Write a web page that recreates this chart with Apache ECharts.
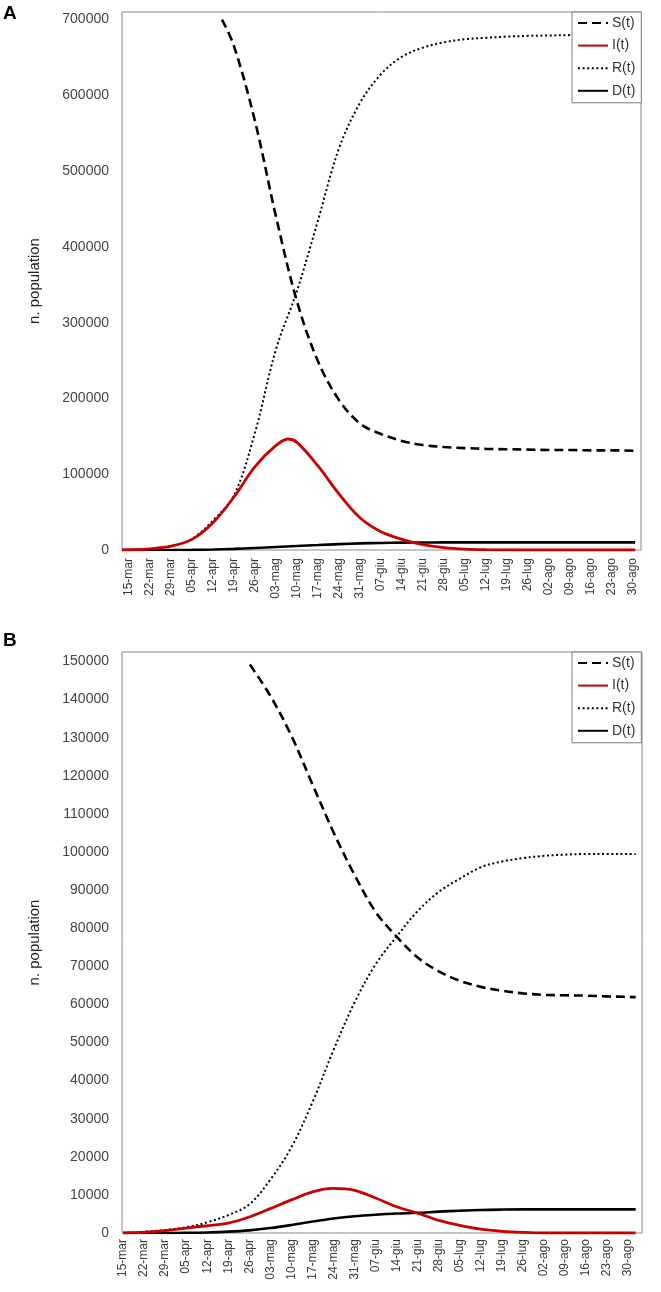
<!DOCTYPE html>
<html>
<head>
<meta charset="utf-8">
<script src="https://cdn.jsdelivr.net/npm/echarts@6/dist/echarts.min.js"></script>
<style>
html,body{margin:0;padding:0;background:#fff;}
#c{width:661px;height:1292px;}
</style>
</head>
<body>
<div id="c"></div>
<script>
// ---- tick labels (weekly) ----
const tickLabels = ['15-mar','22-mar','29-mar','05-apr','12-apr','19-apr','26-apr','03-mag','10-mag','17-mag','24-mag','31-mag','07-giu','14-giu','21-giu','28-giu','05-lug','12-lug','19-lug','26-lug','02-ago','09-ago','16-ago','23-ago','30-ago'];
const tickDays = [0,7,14,21,28,35,42,49,56,63,70,77,84,91,98,105,112,119,126,133,140,147,154,161,168];
const seriesNames = ['S(t)','I(t)','R(t)','D(t)'];

// ---- Panel A (days since 15-mar) ----
const daysA = [-2.3,0,7,14,21,28,35,42,49,56,63,70,77,84,91,98,105,112,119,126,133,140,147,154,161,168.7];
const sDaysA = [31,35,42,49,56,63,70,77,84,91,98,105,112,119,126,133,140,147,154,161,168.7];
const sA = [700000,665000,566000,440000,328000,249000,198000,167000,153000,144000,138500,136000,134500,133500,133000,132500,132000,132000,131500,131500,131000];
const iDaysA = [-2.3,0,7,14,21,28,35,42,49,53,56,63,70,77,84,91,98,105,112,119,126,133,140,147,154,161,168.7];
const iA = [0,200,1500,5000,14000,36000,70000,110000,138000,146500,142000,111000,74000,42500,24000,14000,7000,3200,1200,400,100,0,0,0,0,0,0];
const rA = [0,300,1500,5000,14500,39000,72000,155000,265000,342000,435000,530000,590000,628000,651000,663000,670000,674000,676000,677500,678500,679000,679500,680000,680000,680500];
const dA = [0,0,0,0,150,600,1500,2700,4000,5300,6500,7700,8700,9300,9700,9900,10000,10000,10000,10000,10000,10000,10000,10000,10000,10000];

// ---- Panel B ----
const daysB = [0,7,14,21,28,35,42,49,56,63,70,77,84,91,98,105,112,119,126,133,140,147,154,161,168,170.5];
const sDaysB = [42.2,49,56,63,70,77,84,91,98,105,112,119,126,133,140,147,154,161,168,170.5];
const sB = [149200,141000,130500,117800,105200,94000,84300,77800,72300,68700,66200,64600,63600,62900,62500,62400,62300,62100,62000,61900];
const iB = [0,200,600,1300,1900,2600,4200,6400,8700,10800,11700,11200,9200,6900,5200,3300,2000,1000,450,150,0,0,0,0,0,0];
const rB = [0,300,800,1500,2800,4700,7500,14000,22500,34300,48000,60500,70500,77800,84500,89500,93000,96000,97500,98400,99000,99300,99500,99500,99500,99500];
const dB = [0,0,0,50,150,350,700,1300,2100,3000,3800,4400,4800,5100,5300,5600,5850,6050,6150,6200,6200,6200,6200,6200,6200,6200];

const FONT = 'Liberation Sans, Arial, sans-serif';
const pairs = (xs, ys) => xs.map((x, i) => [x, ys[i]]);

const styles = {
  'S(t)': {color:'#000', width:2.6, type:[9,5]},
  'I(t)': {color:'#c80000', width:2.8, type:'solid'},
  'R(t)': {color:'#000', width:2, type:[2,2.6]},
  'D(t)': {color:'#000', width:2.6, type:'solid'}
};

function mkSeries(name, data, idx) {
  const st = styles[name];
  return {
    name: name, type: 'line', data: data,
    xAxisIndex: idx, yAxisIndex: idx,
    showSymbol: false, symbol: 'none',
    smooth: 0.35, clip: true,
    lineStyle: {color: st.color, width: st.width, type: st.type, cap: 'butt'},
    itemStyle: {color: st.color},
    emphasis: {disabled: true}, animation: false, z: name === 'I(t)' ? 3 : 2
  };
}

function mkX(idx, min, max, margin) {
  return {
    type: 'value', gridIndex: idx, min: min, max: max,
    axisLine: {show: false}, axisTick: {show: false}, splitLine: {show: false},
    axisLabel: {
      customValues: tickDays, rotate: 90, margin: margin,
      fontFamily: FONT, fontSize: 12, color: '#3a3a3a',
      formatter: v => { const k = tickDays.indexOf(v); return k >= 0 ? tickLabels[k] : ''; }
    }
  };
}
function mkY(idx, max, step) {
  return {
    type: 'value', gridIndex: idx, min: 0, max: max, interval: step,
    axisLine: {show: false}, axisTick: {show: false}, splitLine: {show: false},
    name: 'n. population', nameLocation: 'middle', nameGap: 80, nameRotate: 90,
    nameTextStyle: {fontFamily: FONT, fontSize: 15, color: '#222'},
    axisLabel: {
      margin: 13, fontFamily: FONT, fontSize: 14, color: '#444',
      formatter: v => (Math.round(v) % step === 0 ? String(Math.round(v)) : '')
    }
  };
}
function mkLegend(top) {
  return {
    orient: 'vertical', left: 572, top: top, width: 69,
    data: seriesNames, selectedMode: false,
    itemWidth: 30, itemHeight: 14, itemGap: 8.6,
    padding: [4, 6, 5, 5],
    itemStyle: {opacity: 0},
    borderColor: '#7a7a7a', borderWidth: 1, backgroundColor: '#fff',
    textStyle: {fontFamily: FONT, fontSize: 14, color: '#333', padding: [0,0,0,-1]}
  };
}

const chart = echarts.init(document.getElementById('c'), null, {renderer: 'canvas'});
chart.setOption({
  animation: false,
  backgroundColor: '#fff',
  graphic: [
    {type: 'text', left: 3, top: 4, style: {text: 'A', font: 'bold 19px ' + FONT, fill: '#000'}},
    {type: 'text', left: 3, top: 631, style: {text: 'B', font: 'bold 19px ' + FONT, fill: '#000'}}
  ],
  grid: [
    {left: 122, top: 12, width: 519, height: 538, show: true, borderColor: '#8a8a8a', borderWidth: 1, backgroundColor: 'transparent'},
    {left: 122, top: 652, width: 520, height: 581, show: true, borderColor: '#8a8a8a', borderWidth: 1, backgroundColor: 'transparent'}
  ],
  legend: [mkLegend(12), mkLegend(652)],
  xAxis: [mkX(0, -2.33, 170.67, 8), mkX(1, -0.33, 172.6, 6)],
  yAxis: [mkY(0, 710000, 100000), mkY(1, 152500, 10000)],
  series: [
    mkSeries('S(t)', pairs(sDaysA, sA), 0),
    mkSeries('I(t)', pairs(iDaysA, iA), 0),
    mkSeries('R(t)', pairs(daysA, rA), 0),
    mkSeries('D(t)', pairs(daysA, dA), 0),
    mkSeries('S(t)', pairs(sDaysB, sB), 1),
    mkSeries('I(t)', pairs(daysB, iB), 1),
    mkSeries('R(t)', pairs(daysB, rB), 1),
    mkSeries('D(t)', pairs(daysB, dB), 1)
  ]
});
</script>
</body>
</html>
